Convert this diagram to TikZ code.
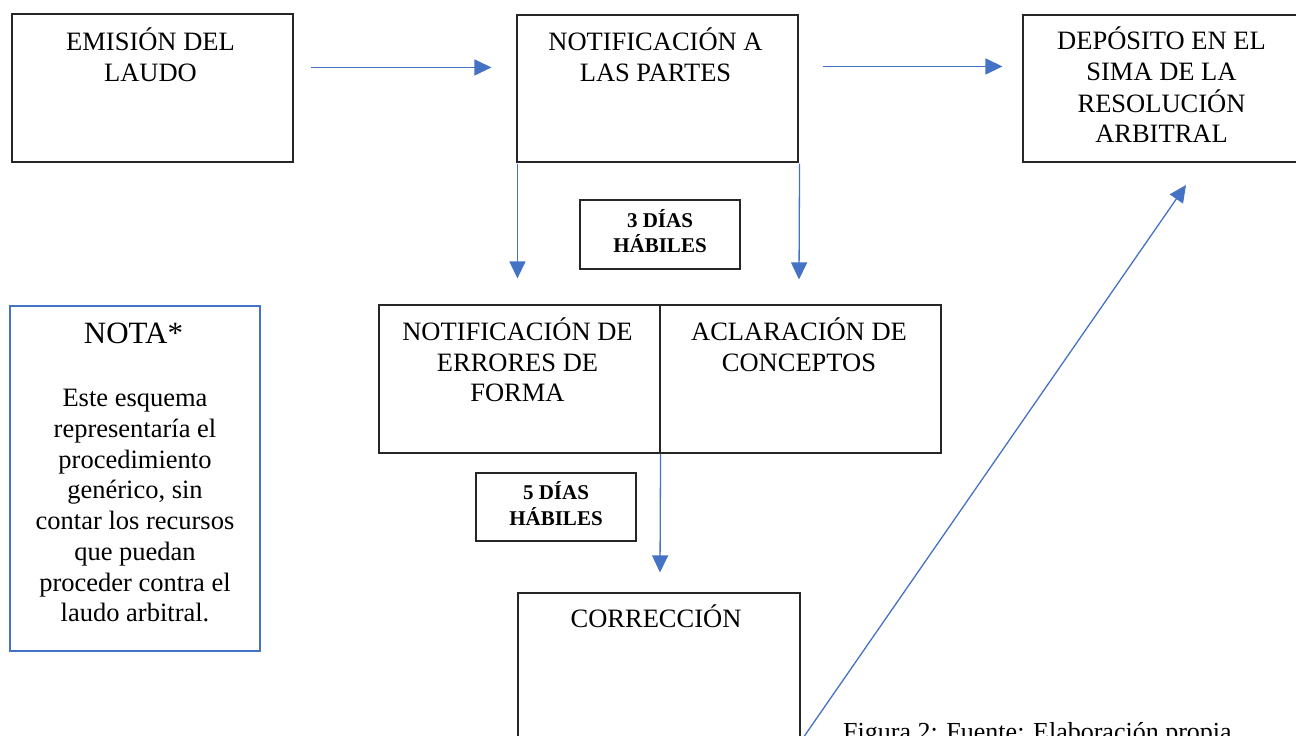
\documentclass[tikz,border=0pt]{standalone}
\usepackage{fontspec}
\setmainfont{Liberation Serif}
\usetikzlibrary{arrows.meta,calc}
\definecolor{accent}{HTML}{4472C4}
\newcommand\stk[1]{\begin{tabular}[t]{@{}c@{}}#1\end{tabular}}
\begin{document}
\begin{tikzpicture}[x=1pt,y=-1pt,
  box/.style={draw=black!85, line width=1.1pt, inner sep=0pt, minimum width=281pt, minimum height=148pt},
  boxtext/.style={font=\fontsize{26.5}{30.7}\selectfont, anchor=base, inner sep=0pt},
  daybox/.style={draw=black!85, line width=1.1pt, minimum width=160pt, minimum height=69pt, inner sep=0pt, font=\bfseries\fontsize{21}{25}\selectfont},
  notebox/.style={draw=accent, line width=2.4pt, minimum width=250pt, minimum height=345pt, inner sep=0pt},
  arr/.style={draw=accent, line width=1.3pt, -{Triangle[length=17pt,width=16pt]}},
]
\useasboundingbox (0,0) rectangle (1296,736);
\clip (0,0) rectangle (1296,736);

% boxes
\node[box] (b1) at (152.5,88) {};
\node[box, minimum height=147pt] (b2) at (657.5,88.5) {};
\node[box, minimum height=147pt] (b3) at (1163.5,88.5) {};
\node[box] (ef) at (519.5,379) {};
\node[box] (ac) at (800.5,379) {};
\node[box, minimum width=282pt] (corr) at (659,667) {};
\node[daybox] (d3) at (660,234.5) {\stk{3 DÍAS\\HÁBILES}};
\node[daybox, minimum height=68pt] (d5) at (556,507) {\stk{5 DÍAS\\HÁBILES}};
\node[notebox] (nota) at (135,478.5) {};

% texts
\node[boxtext] (t1) at ($(b1.north)+(-2,37)$) {\stk{EMISIÓN DEL\\LAUDO}};
\node[boxtext] (t2) at ($(b2.north)+(-2,36)$) {\stk{NOTIFICACIÓN A\\LAS PARTES}};
\node[boxtext] (t3) at ($(b3.north)+(-2,35)$) {\stk{DEPÓSITO EN EL\\SIMA DE LA\\RESOLUCIÓN\\ARBITRAL}};
\node[boxtext] (tef) at ($(ef.north)+(-2,36)$) {\stk{NOTIFICACIÓN DE\\ERRORES DE\\FORMA}};
\node[boxtext] (tac) at ($(ac.north)+(-1.5,36)$) {\stk{ACLARACIÓN DE\\CONCEPTOS}};
\node[boxtext] (tcorr) at ($(corr.north)+(-3,35)$) {\stk{CORRECCIÓN}};
\node[boxtext, font=\fontsize{31}{34}\selectfont] (tnota) at ($(nota.north)+(-1.5,39)$) {NOTA*};
\node[boxtext, font=\fontsize{26.5}{30.7}\selectfont] (tnbody) at ($(nota.north)+(0,102)$) {\stk{Este esquema\\representaría el\\procedimiento\\genérico, sin\\contar los recursos\\que puedan\\proceder contra el\\laudo arbitral.}};
\node[boxtext, anchor=base west, font=\fontsize{26}{30}\selectfont] (cap) at (843,740) {Figura 2: Fuente: Elaboración propia};

% connectors
\coordinate (dtip) at (1186,185);
\draw[arr] ($(b1.north east)+(17,54)$) -- ($(b2.north west)+(-25,53)$);
\draw[arr] ($(b2.north east)+(24,52)$) -- ($(b3.north west)+(-20,52)$);
\draw[arr] ($(b2.south west)+(1,1)$) -- ($(ef.north west)+(139,-26)$);
\draw[arr] ($(b2.south east)+(1,1)$) -- ($(ac.north)+(-1.5,-25)$);
\draw[arr] (ef.south east) -- ($(corr.north)+(1,-20)$);
\draw[arr] (corr.south east) -- (dtip);
\end{tikzpicture}
\end{document}
